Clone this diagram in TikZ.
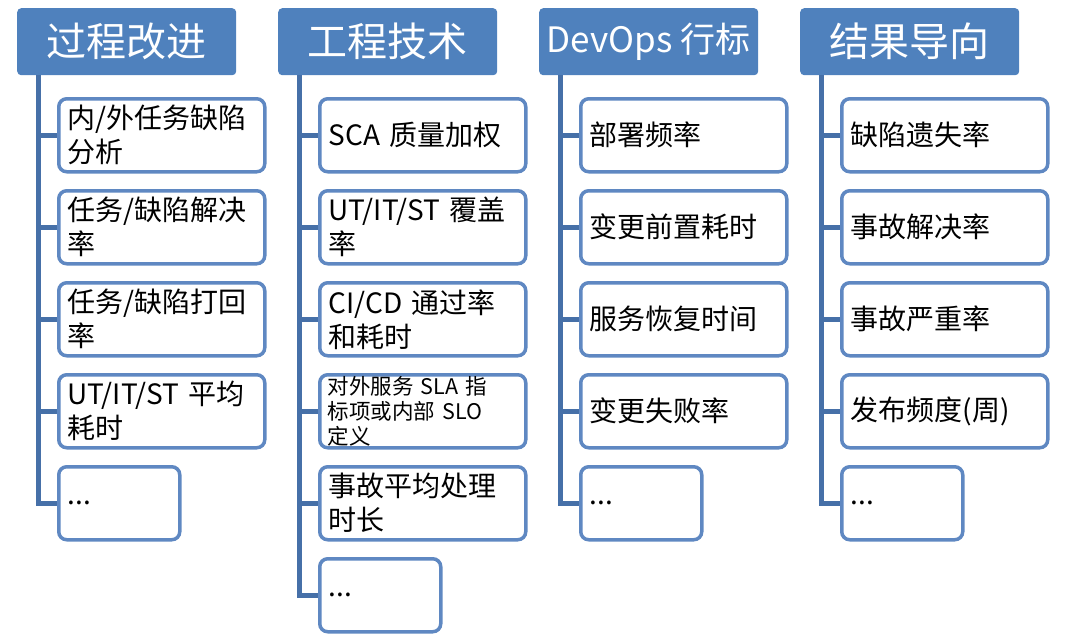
\documentclass[tikz,border=0pt]{standalone}
\usepackage{fontspec}
\newfontfamily\cjk{Noto Sans CJK SC}
\begin{document}
\begin{tikzpicture}[x=1pt,y=-1pt,
  hdr/.style={anchor=north west, fill=hdrblue, rounded corners=4pt, minimum width=219pt, minimum height=67pt, inner sep=0pt, text=white, font=\cjk\fontsize{40}{46}\selectfont},
  box/.style={anchor=north west, draw=boxblue, line width=3.5pt, rounded corners=8pt, fill=white, minimum height=73pt, text width=188pt, inner xsep=9pt, inner ysep=0pt, align=left, font=\cjk\fontsize{28}{34}\selectfont},
  sbox/.style={box, font=\cjk\fontsize{21.5}{25}\selectfont, inner xsep=8pt, text width=190pt},
  dbox/.style={box, text width=103pt},
  trunk/.style={draw=lineblue, line width=5pt},
  branch/.style={draw=lineblue, line width=5pt}
]
\definecolor{hdrblue}{HTML}{4F81BD}
\definecolor{boxblue}{HTML}{5F88C2}
\definecolor{lineblue}{HTML}{4670A8}
\useasboundingbox (0,0) rectangle (1080,638);

% headers
\node[hdr] (h1) at (17,8) {过程改进};
\node[hdr] (h2) at (278,8) {工程技术};
\node[hdr, font=\cjk\fontsize{35}{40}\selectfont] (h3) at (539,8) {DevOps 行标};
\node[hdr] (h4) at (800,8) {结果导向};

% column 1
\node[box] (b11) at (57,97) {内/外任务缺陷\\分析};
\node[box] (b12) at (57,189) {任务/缺陷解决\\率};
\node[box] (b13) at (57,281) {任务/缺陷打回\\率};
\node[box] (b14) at (57,373) {UT/IT/ST 平均\\耗时};
\node[dbox] (b15) at (57,465) {...};

% column 2
\node[box] (b21) at (318,97) {SCA 质量加权};
\node[box] (b22) at (318,189) {UT/IT/ST 覆盖\\率};
\node[box] (b23) at (318,281) {CI/CD 通过率\\和耗时};
\node[sbox] (b24) at (318,373) {对外服务 SLA 指\\标项或内部 SLO\\定义};
\node[box] (b25) at (318,465) {事故平均处理\\时长};
\node[dbox] (b26) at (318,557) {...};

% column 3
\node[box] (b31) at (579,97) {部署频率};
\node[box] (b32) at (579,189) {变更前置耗时};
\node[box] (b33) at (579,281) {服务恢复时间};
\node[box] (b34) at (579,373) {变更失败率};
\node[dbox] (b35) at (579,465) {...};

% column 4
\node[box] (b41) at (840,97) {缺陷遗失率};
\node[box] (b42) at (840,189) {事故解决率};
\node[box] (b43) at (840,281) {事故严重率};
\node[box] (b44) at (840,373) {发布频度(周)};
\node[dbox] (b45) at (840,465) {...};

% trunks
\coordinate (t1) at ([xshift=21pt]h1.south west);
\coordinate (t2) at ([xshift=21pt]h2.south west);
\coordinate (t3) at ([xshift=21pt]h3.south west);
\coordinate (t4) at ([xshift=21pt]h4.south west);

\draw[trunk] (t1) |- (b15.west);
\foreach \i in {1,2,3,4} \draw[branch] (t1 |- b1\i.west) -- (b1\i.west);

\draw[trunk] (t2) |- (b26.west);
\foreach \i in {1,2,3,4,5} \draw[branch] (t2 |- b2\i.west) -- (b2\i.west);

\draw[trunk] (t3) |- (b35.west);
\foreach \i in {1,2,3,4} \draw[branch] (t3 |- b3\i.west) -- (b3\i.west);

\draw[trunk] (t4) |- (b45.west);
\foreach \i in {1,2,3,4} \draw[branch] (t4 |- b4\i.west) -- (b4\i.west);
\end{tikzpicture}
\end{document}
